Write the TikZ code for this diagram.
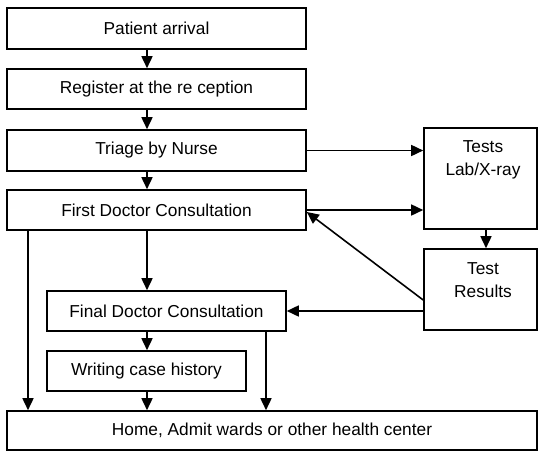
\documentclass[tikz,border=0pt]{standalone}
\usepackage{fontspec}
\setmainfont{Liberation Sans}
\usetikzlibrary{arrows.meta}
\begin{document}
\begin{tikzpicture}[x=1pt,y=-1pt,
  txt/.style={font=\fontsize{17.3}{23}\selectfont, inner sep=0pt},
  box/.style={draw, line width=1.6pt, inner sep=0pt, txt},
  arr/.style={line width=1.6pt, -{Triangle[length=12pt,width=11pt]}}]
\useasboundingbox (0,0) rectangle (539,451);
\node[box, minimum width=299pt, minimum height=41pt] (p) at (156.5,28.5) {Patient arrival};
\node[box, minimum width=299pt, minimum height=40pt] (r) at (156.5,89) {Register at the re ception};
\node[box, minimum width=299pt, minimum height=41pt] (t) at (156.5,150.5) {Triage by Nurse};
\node[box, minimum width=299pt, minimum height=40pt] (f) at (156.5,210) {First Doctor Consultation};
\node[box, minimum width=113pt, minimum height=101pt] (lab) at (480.5,178.5) {};
\node[txt, align=center] (labt) at (483,160) {Tests\\Lab/X-ray};
\node[box, minimum width=113pt, minimum height=81pt] (res) at (480.5,289.5) {};
\node[txt, align=center] (rest) at (483,280) {Test\\Results};
\node[box, minimum width=239pt, minimum height=40pt] (fin) at (166.5,311) {Final Doctor Consultation};
\node[box, minimum width=199pt, minimum height=40pt] (w) at (146.5,371) {Writing case history};
\node[box, minimum width=530pt, minimum height=39pt] (h) at (272,430.5) {Home, Admit wards or other health center};
\coordinate (cx) at (147,0);
\coordinate (lx) at (28,0);
\coordinate (rx) at (266,0);
\coordinate (tx) at (486,0);
\draw[arr] (p.south -| cx) -- (r.north -| cx);
\draw[arr] (r.south -| cx) -- (t.north -| cx);
\draw[arr] (t.south -| cx) -- (f.north -| cx);
\draw[arr] (t.east) -- (t.east -| lab.west);
\draw[arr] (f.east) -- (f.east -| lab.west);
\draw[arr] (lab.south -| tx) -- (res.north -| tx);
\draw[arr] ([yshift=-10.5pt]res.west) -- ([yshift=-2pt]f.east);
\draw[arr] (fin.east -| res.west) -- (fin.east);
\draw[arr] (f.south -| lx) -- (h.north -| lx);
\draw[arr] (f.south -| cx) -- (fin.north -| cx);
\draw[arr] (fin.south -| cx) -- (w.north -| cx);
\draw[arr] (w.south -| cx) -- (h.north -| cx);
\draw[arr] (fin.south -| rx) -- (h.north -| rx);
\end{tikzpicture}
\end{document}
